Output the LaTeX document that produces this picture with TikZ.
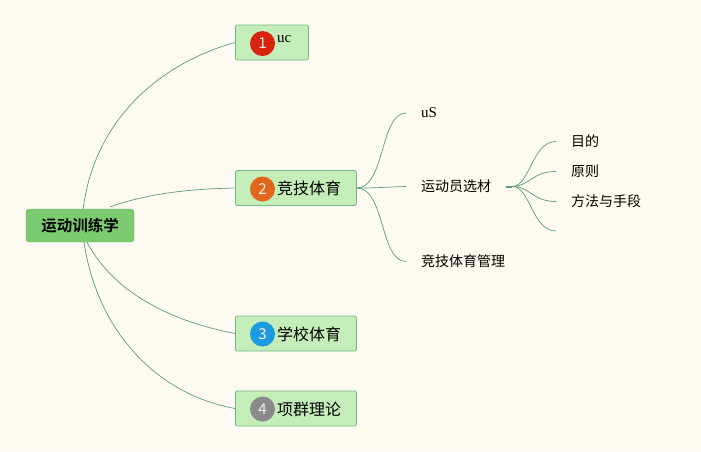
\documentclass[tikz,border=0pt]{standalone}
\usepackage{fontspec}
\newfontfamily\cjk{Noto Sans CJK SC}[BoldFont={Noto Sans CJK SC Bold}]
\newfontfamily\serifl{Liberation Serif}
\usetikzlibrary{calc}
\definecolor{bgc}{HTML}{FDFBF1}
\definecolor{rootfill}{HTML}{7DCB70}
\definecolor{rootdraw}{HTML}{6DBB62}
\definecolor{topfill}{HTML}{C4EDBA}
\definecolor{topdraw}{HTML}{78B58B}
\definecolor{linec}{HTML}{5F9A80}
\definecolor{bred}{HTML}{D8230F}
\definecolor{borange}{HTML}{E0661C}
\definecolor{bblue}{HTML}{1E9BE0}
\definecolor{bgray}{HTML}{8A8A8A}
\tikzset{
  rootbox/.style={draw=rootdraw, fill=rootfill, rounded corners=3pt, minimum width=108pt, minimum height=33pt, font=\cjk\bfseries\fontsize{15.5}{18}\selectfont, inner sep=0pt},
  topicbox/.style={draw=topdraw, fill=topfill, rounded corners=2pt, minimum height=35pt, anchor=west, inner sep=0pt, line width=0.8pt},
  badge/.style={circle, minimum size=25pt, inner sep=0pt, text=white!90!gray, font=\cjk\fontsize{15}{15}\selectfont},
  ttext/.style={font=\cjk\fontsize{16}{18}\selectfont, anchor=west, inner sep=0pt},
  sub/.style={font=\cjk\fontsize{14}{16}\selectfont, anchor=west, inner xsep=15pt, inner ysep=0pt},
  latin/.style={font=\serifl\fontsize{15}{17}\selectfont},
  conn/.style={draw=linec, line width=0.7pt},
}
\begin{document}
\begin{tikzpicture}[x=1pt,y=-1pt]
\fill[bgc] (0,0) rectangle (701,451);
\useasboundingbox (0,0) rectangle (701,451);

% root
\node[rootbox] (root) at (80,225.5) {运动训练学};

% topics
\node[topicbox, minimum width=73pt] (t1) at (235,42.5) {};
\node[topicbox, minimum width=121pt] (t2) at (235,188) {};
\node[topicbox, minimum width=121pt] (t3) at (235,333.5) {};
\node[topicbox, minimum width=121pt] (t4) at (235,408.5) {};

\node[badge, fill=bred] (b1) at (262.5,43.5) {1};
\node[badge, fill=borange] (b2) at (262.5,189) {2};
\node[badge, fill=bblue] (b3) at (262.5,334) {3};
\node[badge, fill=bgray] (b4) at (262.5,409) {4};

\node[latin, anchor=west, inner sep=0pt] (l1) at (277,39.5) {uc};
\node[ttext] (l2) at (277,188.5) {竞技体育};
\node[ttext] (l3) at (277,334) {学校体育};
\node[ttext] (l4) at (277,409) {项群理论};

% root connectors
\draw[conn] ($(root.north)+(3,1)$) .. controls (95,115) and (165,62) .. (t1.west);
\draw[conn] ($(root.north)+(30,-2)$) .. controls (150,193) and (190,189) .. (t2.west);
\draw[conn] ($(root.south)+(7,0)$) .. controls (115,295) and (175,322) .. (t3.west);
\draw[conn] ($(root.south)+(4,0)$) .. controls (98,335) and (160,395) .. (t4.west);

% subtopics
\node[sub, latin] (s1) at (406,113) {uS};
\node[sub] (s2) at (406,186.5) {运动员选材};
\node[sub] (s3) at (406,261.5) {竞技体育管理};

\draw[conn] (t2.east) .. controls (385,188) and (380,113) .. (s1.west);
\draw[conn] (t2.east) .. controls (380,188) and (385,187) .. (s2.west);
\draw[conn] (t2.east) .. controls (385,188) and (380,261.5) .. (s3.west);

% grandchildren
\node[sub] (g1) at (556,141.5) {目的};
\node[sub] (g2) at (556,171.5) {原则};
\node[sub] (g3) at (556,201.5) {方法与手段};
\node[sub] (g4) at (556,231) {};

\coordinate (hub) at ($(s2.east)+(6,0)$);
\draw[draw=linec, line width=2pt] (s2.east) -- (hub);
\draw[conn] (hub) .. controls (530,186) and (532,141.5) .. (g1.west);
\draw[conn] (hub) .. controls (530,186) and (532,171.5) .. (g2.west);
\draw[conn] (hub) .. controls (530,186) and (532,201.5) .. (g3.west);
\draw[conn] (hub) .. controls (530,186) and (532,231) .. (g4.west);
\end{tikzpicture}
\end{document}
